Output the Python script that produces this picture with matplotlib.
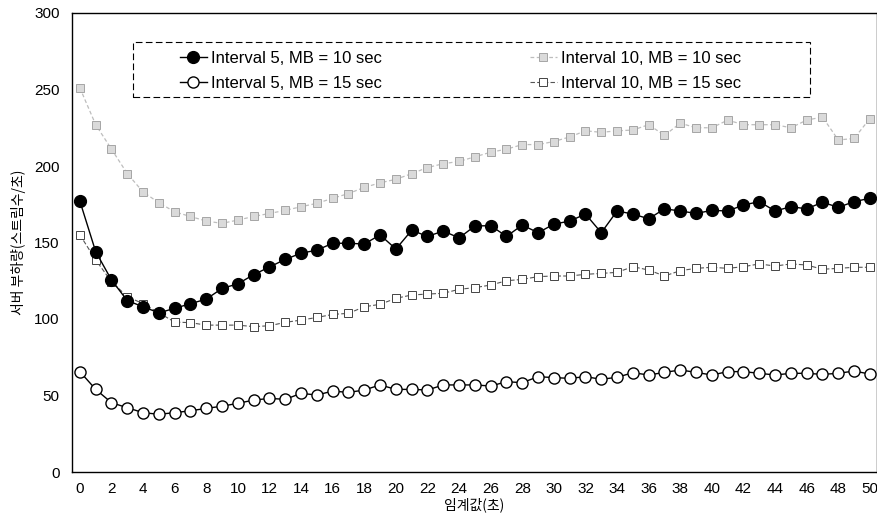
import matplotlib
matplotlib.use("Agg")
import matplotlib.pyplot as plt
from matplotlib.patches import Rectangle

plt.rcParams['font.family'] = ['Liberation Sans', 'Noto Sans CJK KR', 'DejaVu Sans']

# threshold values (x axis)
thresholds = list(range(0, 51))

# Interval 5, MB = 10 sec (filled circles)
i5_mb10 = [177, 144, 125.5, 112, 108, 104, 107, 110, 113, 120,
           123, 129, 134, 139, 143, 145, 149.5, 149.5, 149, 155,
           145.7, 158, 154, 157.5, 153, 160.8, 161, 154, 161.4, 156.4,
           162, 164, 168.6, 156.4, 170.6, 168.6, 165.5, 172, 170.6, 169,
           171, 170.6, 174.5, 176.7, 170.6, 173.4, 172, 176.3, 173, 176.7,
           178.9]

# Interval 5, MB = 15 sec (hollow circles)
i5_mb15 = [65.6, 54, 45.3, 42, 38.8, 37.7, 38.8, 40, 41.6, 43,
           44.9, 47, 48.1, 47.5, 51.4, 50.3, 52.9, 52, 53.6, 56.9,
           54, 54, 53.6, 56.9, 56.9, 56.9, 56.2, 59, 58.4, 62.3,
           61.7, 61.2, 62.3, 60.6, 61.9, 64.9, 63.4, 65.1, 66.7, 65.1,
           63.4, 65.6, 65.6, 64.5, 63.4, 64.5, 64.5, 63.8, 64.5, 66,
           64]

# Interval 10, MB = 10 sec (hatched grey squares)
i10_mb10 = [251, 227, 211, 195, 183, 176, 170, 167, 164, 162.5,
            164.7, 167, 169, 171, 173.4, 175.6, 178.9, 182, 186, 189,
            191.3, 195, 199, 201.5, 203, 206, 209, 211, 214, 214,
            216, 219, 223, 222, 223, 223.5, 227, 220, 228, 225,
            225, 230, 227, 227, 227, 225, 230, 232, 217, 218,
            231]

# Interval 10, MB = 15 sec (hollow squares)
i10_mb15 = [155, 138.6, 124.4, 114.6, 110, 104, 98, 97.6, 96, 96,
            96, 95, 95.6, 97.8, 99.3, 101, 103, 103.7, 108, 109.6,
            113.5, 115.7, 116.3, 116.8, 119.4, 120.5, 122.2, 125, 125.9, 127.7,
            128.1, 128.1, 129.2, 129.8, 130.5, 134.2, 132, 128.1, 131.6, 133.1,
            133.8, 133.1, 134.2, 136, 134.6, 136, 135.3, 132.5, 133.1, 133.8,
            133.8]

labels = ['Interval 5, MB = 10 sec', 'Interval 5, MB = 15 sec',
          'Interval 10, MB = 10 sec', 'Interval 10, MB = 15 sec']

fig = plt.figure(figsize=(8.78, 5.19), dpi=100)
ax = fig.add_axes([72 / 878, 1 - 472 / 519, 805 / 878, 459 / 519])

# faint series first so the black ones sit on top
l_i10_mb10, = ax.plot(thresholds, i10_mb10, color='#bdbdbd', lw=0.9, ls=(0, (3, 2)),
                      marker='s', ms=5.5, mfc='#dadada', mec='#a5a5a5', mew=0.7,
                      label=labels[2], zorder=2)
l_i10_mb15, = ax.plot(thresholds, i10_mb15, color='#555555', lw=0.8, ls=(0, (4, 2)),
                      marker='s', ms=6, mfc='white', mec='#444444', mew=0.7,
                      label=labels[3], zorder=3)
l_i5_mb15, = ax.plot(thresholds, i5_mb15, color='black', lw=1.0,
                     marker='o', ms=8, mfc='white', mec='black', mew=1.0,
                     label=labels[1], zorder=4)
l_i5_mb10, = ax.plot(thresholds, i5_mb10, color='black', lw=1.0,
                     marker='o', ms=8.5, mfc='black', mec='black',
                     label=labels[0], zorder=5)

ax.set_xlim(-0.5, 50.45)
ax.set_ylim(0, 300)
ax.set_xticks(range(0, 51, 2))
ax.set_yticks(range(0, 301, 50))
ax.tick_params(axis='both', length=0, labelsize=11)
ax.tick_params(axis='y', pad=9)
ax.tick_params(axis='x', pad=7)
for s in ax.spines.values():
    s.set_linewidth(1.0)
    s.set_color('black')

ax.set_xlabel('임계값(초)', fontsize=10, family=['Noto Sans CJK KR', 'DejaVu Sans'], labelpad=1)
ax.set_ylabel('서버 부하량(스트림수/초)', fontsize=10,
              family=['Noto Sans CJK KR', 'DejaVu Sans'], labelpad=6)

# legend box (dashed frame) plus frameless legend inside
box = Rectangle((61 / 805, (472 - 97) / 459), (810 - 133) / 805, 55 / 459,
                transform=ax.transAxes, fill=True, facecolor='white',
                edgecolor='black', lw=0.8, ls=(0, (6, 3)), zorder=6)
ax.add_patch(box)

handles = [l_i5_mb10, l_i5_mb15, l_i10_mb10, l_i10_mb15]
leg = ax.legend(handles, labels, ncol=2,
                loc='upper left', bbox_to_anchor=((180 - 72) / 805, (472 - 51) / 459),
                frameon=False, fontsize=12, handlelength=1.6, handletextpad=0.25,
                columnspacing=8.9, labelspacing=0.6, borderpad=0, borderaxespad=0)
leg.set_zorder(7)

fig.savefig('out.png', dpi=100)
